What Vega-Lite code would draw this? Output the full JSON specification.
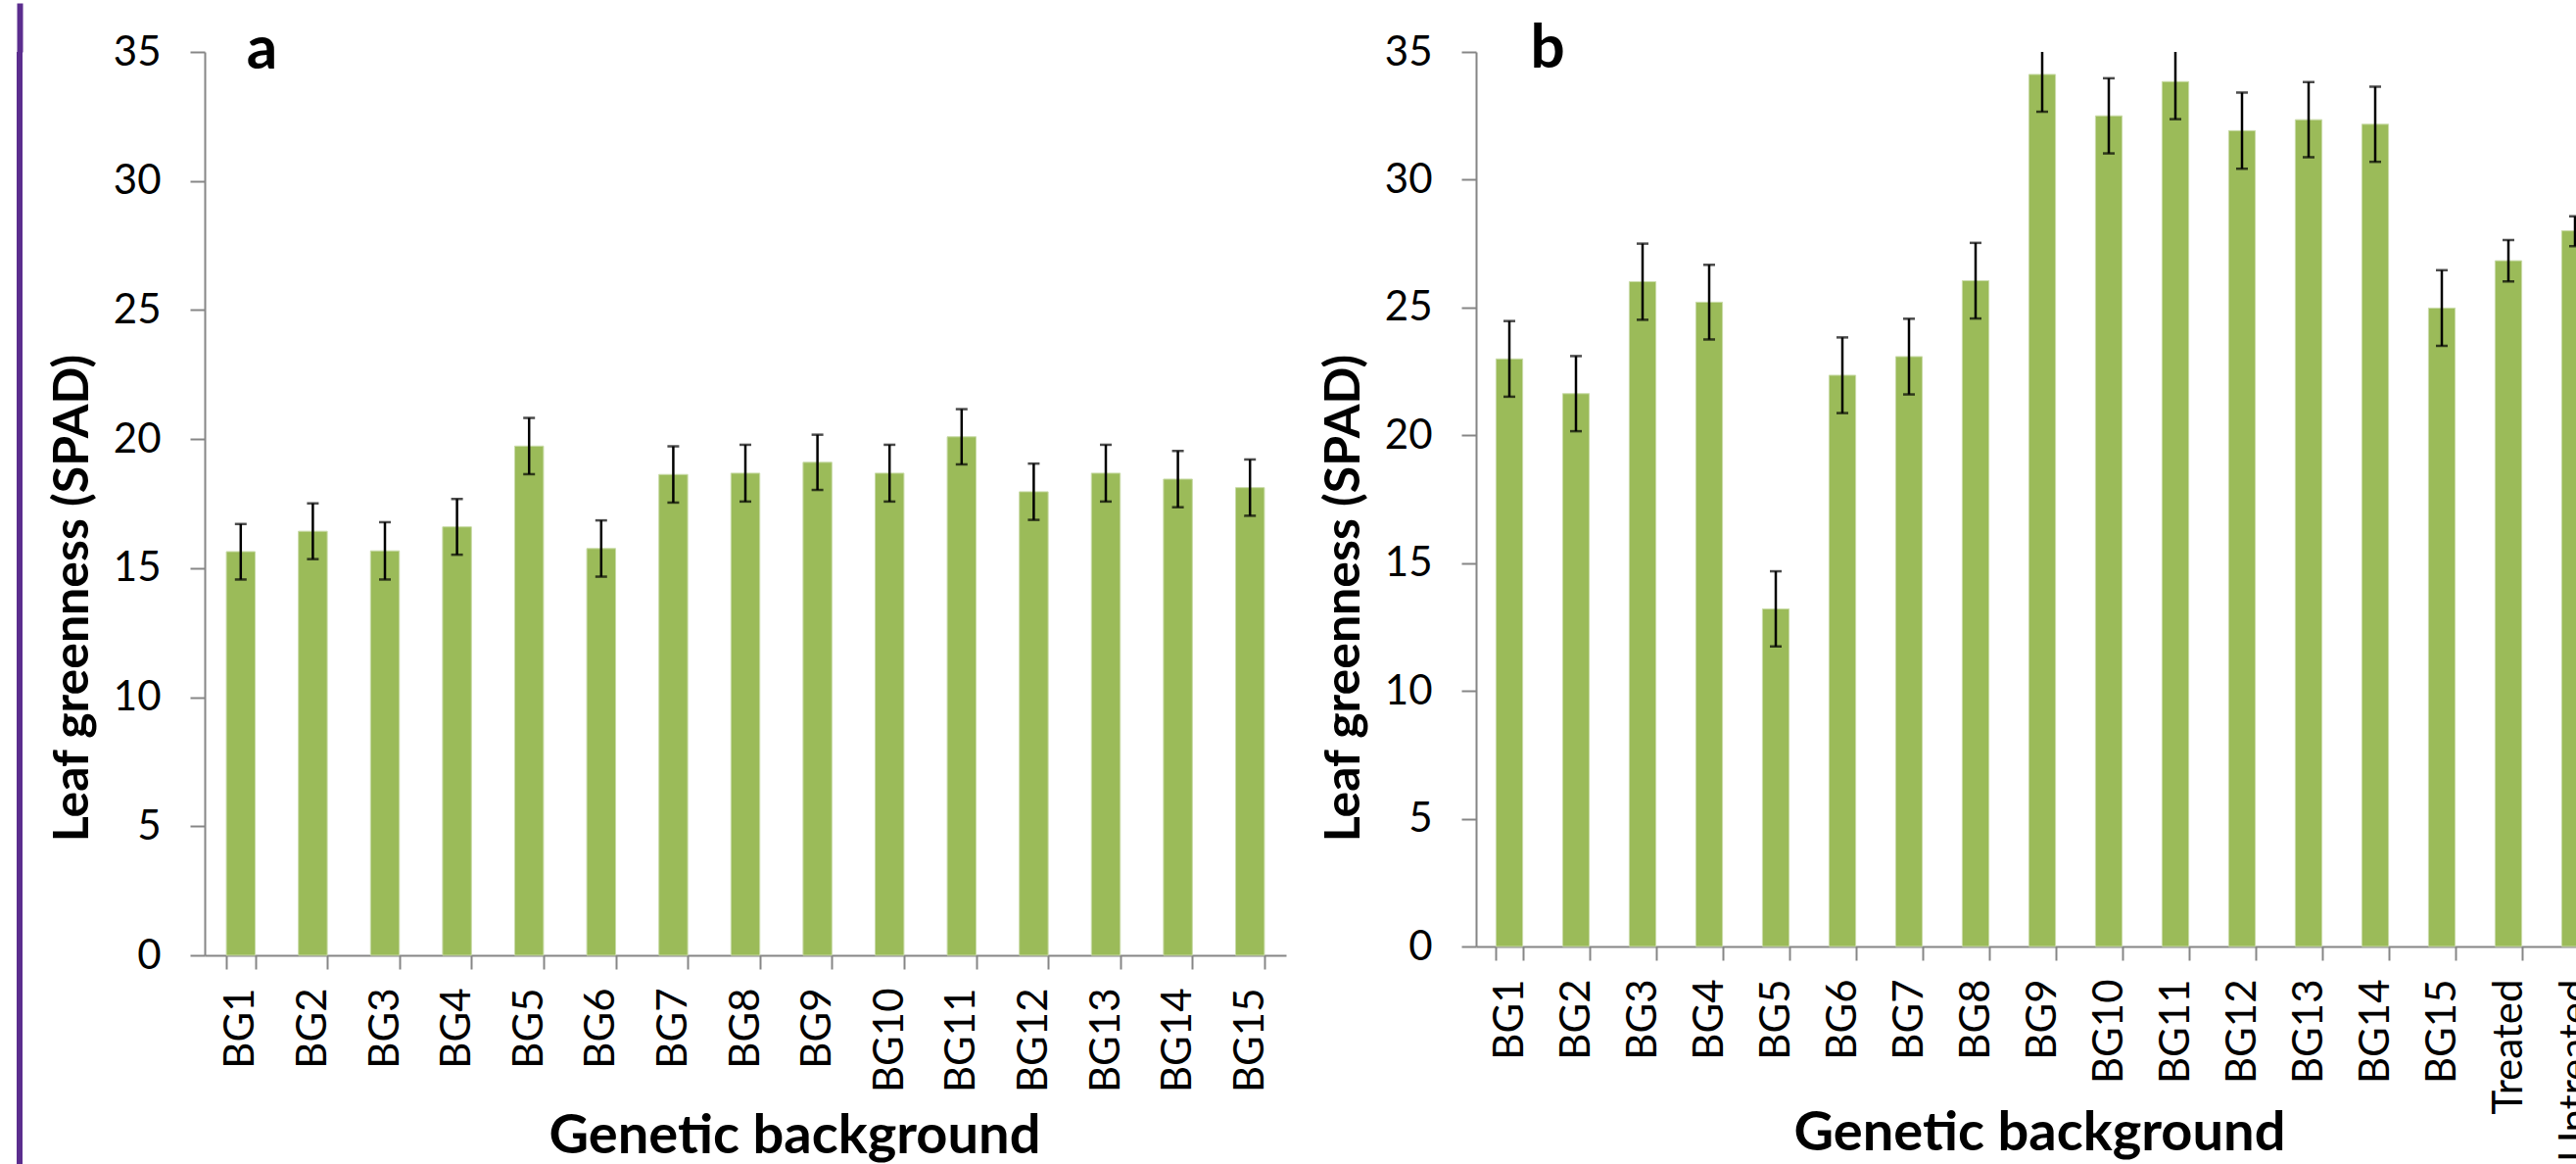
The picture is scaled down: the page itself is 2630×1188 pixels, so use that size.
{
  "$schema": "https://vega.github.io/schema/vega-lite/v6.json",
  "usermeta": {"embedOptions": {"actions": false}},
  "padding": {"left": 17, "top": 0, "right": 0, "bottom": 0},
  "background": "white",
  "config": {
    "view": {"stroke": null},
    "font": "Lato",
    "axis": {"grid": false, "domainColor": "#868686", "tickColor": "#868686", "domainWidth": 2, "tickWidth": 2, "labelColor": "#000000", "titleColor": "#000000", "labelFont": "Lato", "titleFont": "Lato"}
  },
  "datasets": {
    "a": [
      {"bg": "BG1", "mean": 15.64, "lo": 14.56, "hi": 16.71},
      {"bg": "BG2", "mean": 16.43, "lo": 15.35, "hi": 17.51},
      {"bg": "BG3", "mean": 15.67, "lo": 14.56, "hi": 16.78},
      {"bg": "BG4", "mean": 16.60, "lo": 15.52, "hi": 17.68},
      {"bg": "BG5", "mean": 19.73, "lo": 18.64, "hi": 20.82},
      {"bg": "BG6", "mean": 15.76, "lo": 14.67, "hi": 16.85},
      {"bg": "BG7", "mean": 18.63, "lo": 17.54, "hi": 19.72},
      {"bg": "BG8", "mean": 18.68, "lo": 17.58, "hi": 19.78},
      {"bg": "BG9", "mean": 19.10, "lo": 18.03, "hi": 20.17},
      {"bg": "BG10", "mean": 18.68, "lo": 17.58, "hi": 19.78},
      {"bg": "BG11", "mean": 20.09, "lo": 19.02, "hi": 21.16},
      {"bg": "BG12", "mean": 17.96, "lo": 16.87, "hi": 19.05},
      {"bg": "BG13", "mean": 18.68, "lo": 17.58, "hi": 19.78},
      {"bg": "BG14", "mean": 18.45, "lo": 17.36, "hi": 19.54},
      {"bg": "BG15", "mean": 18.12, "lo": 17.03, "hi": 19.21}
    ],
    "b": [
      {"bg": "BG1", "mean": 22.99, "lo": 21.51, "hi": 24.47},
      {"bg": "BG2", "mean": 21.63, "lo": 20.16, "hi": 23.10},
      {"bg": "BG3", "mean": 26.01, "lo": 24.52, "hi": 27.50},
      {"bg": "BG4", "mean": 25.21, "lo": 23.75, "hi": 26.67},
      {"bg": "BG5", "mean": 13.21, "lo": 11.74, "hi": 14.68},
      {"bg": "BG6", "mean": 22.35, "lo": 20.87, "hi": 23.83},
      {"bg": "BG7", "mean": 23.08, "lo": 21.60, "hi": 24.56},
      {"bg": "BG8", "mean": 26.05, "lo": 24.57, "hi": 27.53},
      {"bg": "BG9", "mean": 34.12, "lo": 32.66, "hi": 35.58},
      {"bg": "BG10", "mean": 32.50, "lo": 31.03, "hi": 33.97},
      {"bg": "BG11", "mean": 33.84, "lo": 32.37, "hi": 35.31},
      {"bg": "BG12", "mean": 31.92, "lo": 30.43, "hi": 33.41},
      {"bg": "BG13", "mean": 32.35, "lo": 30.88, "hi": 33.82},
      {"bg": "BG14", "mean": 32.17, "lo": 30.70, "hi": 33.64},
      {"bg": "BG15", "mean": 24.98, "lo": 23.50, "hi": 26.46},
      {"bg": "Treated", "mean": 26.83, "lo": 26.02, "hi": 27.64},
      {"bg": "Untreated", "mean": 28.00, "lo": 27.40, "hi": 28.57}
    ]
  },
  "spacing": 26,
  "hconcat": [
    {
      "width": 6, "height": 1138,
      "data": {"values": [{"k": 0.5}]},
      "view": {"fill": "#5B2D8E", "stroke": null},
      "mark": {"type": "rect", "color": "#5B2D8E"},
      "encoding": {
        "x": {"field": "k", "type": "quantitative", "scale": {"domain": [0, 1], "nice": false, "zero": false},
          "axis": {"orient": "top", "values": [0.5], "title": null, "labels": false, "domain": false, "ticks": true, "tickSize": 50, "tickWidth": 6, "tickColor": "#5B2D8E", "tickCap": "butt"}}
      }
    },
    {
      "spacing": 34,
      "hconcat": [
        {
          "width": 1104, "height": 922,
          "encoding": {
            "x": {"field": "bg", "type": "nominal", "sort": null, "scale": {"paddingInner": 0.6, "paddingOuter": 0.3},
              "axis": {"title": "Genetic background", "labelAngle": -90, "labelAlign": "right", "labelBaseline": "middle", "labelPadding": 19, "tickSize": 14, "tickBand": "extent", "labelFontSize": 42, "labelOverlap": false, "labelLimit": 0, "titleFontSize": 56, "titleFontWeight": "bold", "titleX": 602, "titleY": 201, "titleBaseline": "alphabetic", "titleAlign": "center"}}
          },
          "layer": [
            {"data": {"name": "a"},
             "mark": {"type": "bar", "color": "#9BBB59", "stroke": "#C9DBA8", "strokeWidth": 1},
             "encoding": {"y": {"field": "mean", "type": "quantitative", "title": "Leaf greenness (SPAD)", "scale": {"domain": [0, 35], "nice": false},
               "axis": {"values": [0, 5, 10, 15, 20, 25, 30, 35], "tickSize": 15, "labelPadding": 30, "labelFontSize": 42, "labelFlush": false, "labelOverlap": false, "titleFontSize": 50, "titleFontWeight": "bold", "titleAngle": 270, "titleX": -120, "titleY": 557, "titleBaseline": "alphabetic", "titleAlign": "center"}}}},
            {"data": {"name": "a"},
             "mark": {"type": "rule", "color": "#000000", "strokeWidth": 2.5, "clip": true},
             "encoding": {"y": {"field": "lo", "type": "quantitative", "title": "Leaf greenness (SPAD)"}, "y2": {"field": "hi"}}},
            {"data": {"name": "a"},
             "mark": {"type": "tick", "color": "#000000", "thickness": 2.5, "size": 12, "clip": true},
             "encoding": {"y": {"field": "lo", "type": "quantitative", "title": "Leaf greenness (SPAD)"}}},
            {"data": {"name": "a"},
             "mark": {"type": "tick", "color": "#000000", "thickness": 2.5, "size": 12, "clip": true},
             "encoding": {"y": {"field": "hi", "type": "quantitative", "title": "Leaf greenness (SPAD)"}}},
            {"data": {"values": [{"panel": "a"}]},
             "mark": {"type": "text", "align": "left", "baseline": "alphabetic", "dx": 6, "dy": 17, "fontSize": 62, "fontWeight": "bold", "font": "Lato", "color": "#000000"},
             "encoding": {"x": {"datum": "BG1"}, "y": {"datum": 35, "type": "quantitative"}, "text": {"field": "panel", "type": "nominal"}}}
          ]
        },
        {
          "width": 1156, "height": 913,
          "encoding": {
            "x": {"field": "bg", "type": "nominal", "sort": null, "scale": {"paddingInner": 0.6, "paddingOuter": 0.3},
              "axis": {"title": "Genetic background", "labelAngle": -90, "labelAlign": "right", "labelBaseline": "middle", "labelPadding": 19, "tickSize": 14, "tickBand": "extent", "labelFontSize": 42, "labelOverlap": false, "labelLimit": 0, "titleFontSize": 56, "titleFontWeight": "bold", "titleX": 575, "titleY": 207, "titleBaseline": "alphabetic", "titleAlign": "center"}}
          },
          "layer": [
            {"data": {"name": "b"},
             "mark": {"type": "bar", "color": "#9BBB59", "stroke": "#C9DBA8", "strokeWidth": 1},
             "encoding": {"y": {"field": "mean", "type": "quantitative", "title": "Leaf greenness (SPAD)", "scale": {"domain": [0, 35], "nice": false},
               "axis": {"values": [0, 5, 10, 15, 20, 25, 30, 35], "tickSize": 15, "labelPadding": 30, "labelFontSize": 42, "labelFlush": false, "labelOverlap": false, "titleFontSize": 50, "titleFontWeight": "bold", "titleAngle": 270, "titleX": -120, "titleY": 557, "titleBaseline": "alphabetic", "titleAlign": "center"}}}},
            {"data": {"name": "b"},
             "mark": {"type": "rule", "color": "#000000", "strokeWidth": 2.5, "clip": true},
             "encoding": {"y": {"field": "lo", "type": "quantitative", "title": "Leaf greenness (SPAD)"}, "y2": {"field": "hi"}}},
            {"data": {"name": "b"},
             "mark": {"type": "tick", "color": "#000000", "thickness": 2.5, "size": 12, "clip": true},
             "encoding": {"y": {"field": "lo", "type": "quantitative", "title": "Leaf greenness (SPAD)"}}},
            {"data": {"name": "b"},
             "mark": {"type": "tick", "color": "#000000", "thickness": 2.5, "size": 12, "clip": true},
             "encoding": {"y": {"field": "hi", "type": "quantitative", "title": "Leaf greenness (SPAD)"}}},
            {"data": {"values": [{"panel": "b"}]},
             "mark": {"type": "text", "align": "left", "baseline": "alphabetic", "dx": 21.5, "dy": 16, "fontSize": 62, "fontWeight": "bold", "font": "Lato", "color": "#000000"},
             "encoding": {"x": {"datum": "BG1"}, "y": {"datum": 35, "type": "quantitative"}, "text": {"field": "panel", "type": "nominal"}}}
          ]
        }
      ]
    }
  ]
}
